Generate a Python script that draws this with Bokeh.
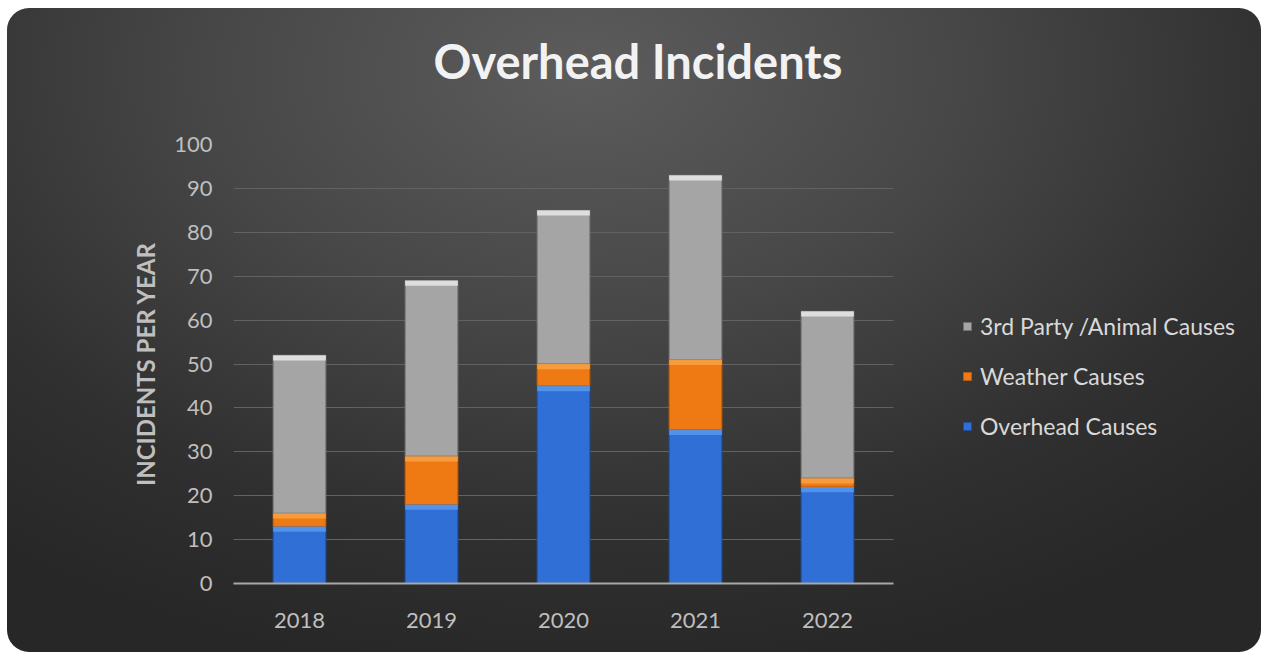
from bokeh.plotting import figure
from bokeh.models import ColumnDataSource, Legend, LegendItem, FixedTicker, Range1d, Title
from bokeh.embed import file_html
from bokeh.resources import INLINE

years = ["2018", "2019", "2020", "2021", "2022"]
overhead = [13, 18, 45, 35, 22]
weather = [3, 11, 5, 16, 2]
third_party = [36, 40, 35, 42, 38]
series_names = ["Overhead Causes", "Weather Causes", "3rd Party /Animal Causes"]
y_ticks = [0, 10, 20, 30, 40, 50, 60, 70, 80, 90, 100]

idx = list(range(len(years)))
top1 = [a for a in overhead]
top2 = [a + b for a, b in zip(overhead, weather)]
top3 = [a + b + c for a, b, c in zip(overhead, weather, third_party)]

src = ColumnDataSource(dict(x=idx, years=years, overhead=overhead, weather=weather, third=third_party,
                            top1=top1, top2=top2, top3=top3,
                            hl1=[t - 1.2 for t in top1], hl2=[t - 1.2 for t in top2],
                            hl3=[t - 1.2 for t in top3]))

FONT = "Lato"
W, H = 1254, 644
BL, BR, BT, BB = 226, 10, 136, 69
BAND_PX = 132.0
frame_w = W - BL - BR
x_end = -0.5 + frame_w / BAND_PX

p = figure(x_range=Range1d(-0.5, x_end), y_range=(0, 100), width=W, height=H,
           output_backend="svg", toolbar_location=None,
           min_border_left=BL, min_border_right=BR, min_border_top=BT, min_border_bottom=BB)
p.title = None
p.styles = {"background": "radial-gradient(ellipse 75% 95% at 46% 10%, #5c5c5c 0%, #474747 40%, #303030 75%, #272727 100%)",
            "border-radius": "22px", "margin": "8px 0 0 7px"}
p.background_fill_color = None
p.border_fill_color = None
p.outline_line_color = None

colors = ["#2f6fd6", "#ef7a14", "#a5a5a5"]
edges = ["#1d4e9e", "#b85a0c", "#707070"]
hl = ["#5a9bf0", "#f9a447", "#ececec"]

grid_end = len(years) - 0.5
p.xgrid.grid_line_color = None
g = p.ygrid[0]
if hasattr(g, "cross_bounds"):
    g.cross_bounds = (-0.5, grid_end)
    g.grid_line_color = "#626262"
else:
    g.grid_line_color = None
    p.segment(x0=[-0.5] * len(y_ticks), x1=[grid_end] * len(y_ticks), y0=y_ticks, y1=y_ticks,
              line_color="#626262", line_width=1)

rs = p.vbar_stack(["overhead", "weather", "third"], x="x", width=0.4, source=src,
                  color=colors, line_color=edges, line_width=1)
for top, hcol, hc in zip(["top1", "top2", "top3"], ["hl1", "hl2", "hl3"], hl):
    p.vbar(x="x", top=top, bottom=hcol, width=0.4, source=src, fill_color=hc,
           line_color=None, fill_alpha=0.8)

p.yaxis.ticker = FixedTicker(ticks=y_ticks)
p.yaxis.axis_line_color = None
p.yaxis.major_tick_line_color = None
p.yaxis.minor_tick_line_color = None
p.yaxis.major_label_text_color = "#bfbfbf"
p.yaxis.major_label_text_font = FONT
p.yaxis.major_label_text_font_size = "22px"
p.yaxis.major_label_standoff = 15
p.yaxis.axis_label = "INCIDENTS PER YEAR"
p.yaxis.axis_label_text_font = FONT
p.yaxis.axis_label_text_font_style = "bold"
p.yaxis.axis_label_text_font_size = "24px"
p.yaxis.axis_label_text_color = "#bfbfbf"
p.yaxis.axis_label_standoff = 11

p.xaxis.ticker = FixedTicker(ticks=idx)
p.xaxis.major_label_overrides = {i: y for i, y in zip(idx, years)}
p.xaxis.bounds = (-0.5, grid_end)
p.xaxis.axis_line_color = "#a8a8a8"
p.xaxis.axis_line_width = 2
p.xaxis.major_tick_line_color = None
p.xaxis.minor_tick_line_color = None
p.xaxis.major_label_text_color = "#bfbfbf"
p.xaxis.major_label_text_font = FONT
p.xaxis.major_label_text_font_size = "22px"
p.xaxis.major_label_standoff = 23

items = [LegendItem(label=series_names[2], renderers=[rs[2]]),
         LegendItem(label=series_names[1], renderers=[rs[1]]),
         LegendItem(label=series_names[0], renderers=[rs[0]])]
legend = Legend(items=items, location=(729, 143), background_fill_alpha=0, border_line_color=None,
                label_text_color="#d9d9d9", label_text_font=FONT, label_text_font_size="23px",
                glyph_width=10, glyph_height=10, label_height=24, spacing=22, label_standoff=8,
                margin=0, padding=0)
p.add_layout(legend)

spacer = Title(text=" ", text_font_size="2px", standoff=50)
main_title = Title(text="Overhead Incidents", align="left", offset=200, standoff=4,
                   text_font=FONT, text_font_style="bold", text_font_size="47px",
                   text_color="#f2f2f2")
p.add_layout(spacer, "above")
p.add_layout(main_title, "above")

open("out.html", "w").write(file_html(p, INLINE))
